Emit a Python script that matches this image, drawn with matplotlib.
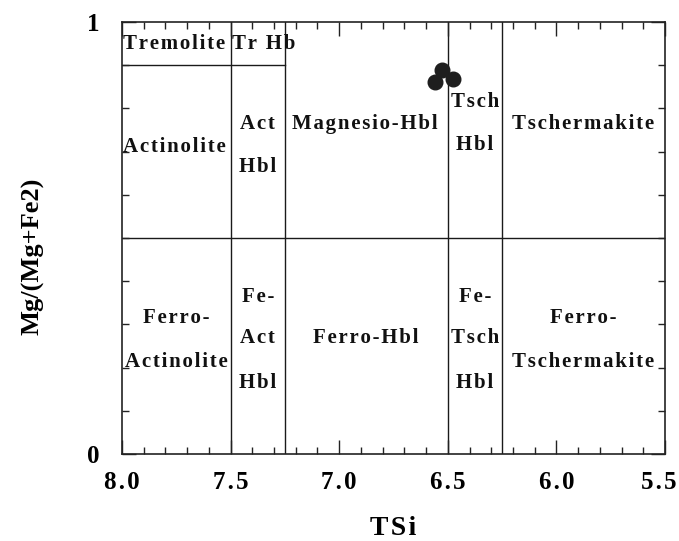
import matplotlib
matplotlib.use("Agg")
import matplotlib.pyplot as plt
import matplotlib.transforms as mtransforms
from matplotlib.ticker import MultipleLocator, FixedLocator

# Data: sample points
tsi = [6.525, 6.559, 6.476]
mg_ratio = [0.889, 0.860, 0.867]

# Field boundaries
vlines_x = [7.5, 7.25, 6.5, 6.25]
hline_full_y = 0.5
hline_part_y = 0.9
hline_part_x = [8.0, 7.25]

# Field labels (text, x, y, ha)
labels = [
    ("Tremolite", 7.995, 0.95, "left"),
    ("Tr Hb", 7.495, 0.95, "left"),
    ("Actinolite", 7.995, 0.71, "left"),
    ("Act", 7.375, 0.764, "center"),
    ("Hbl", 7.375, 0.665, "center"),
    ("Magnesio-Hbl", 6.88, 0.764, "center"),
    ("Tsch", 6.375, 0.815, "center"),
    ("Hbl", 6.375, 0.715, "center"),
    ("Tschermakite", 5.875, 0.764, "center"),
    ("Ferro-", 7.75, 0.315, "center"),
    ("Actinolite", 7.75, 0.213, "center"),
    ("Fe-", 7.375, 0.364, "center"),
    ("Act", 7.375, 0.268, "center"),
    ("Hbl", 7.375, 0.164, "center"),
    ("Ferro-Hbl", 6.88, 0.268, "center"),
    ("Fe-", 6.375, 0.364, "center"),
    ("Tsch", 6.375, 0.268, "center"),
    ("Hbl", 6.375, 0.164, "center"),
    ("Ferro-", 5.875, 0.315, "center"),
    ("Tschermakite", 5.875, 0.213, "center"),
]

x_ticks = [8.0, 7.5, 7.0, 6.5, 6.0, 5.5]
x_ticklabels = ["8.0", "7.5", "7.0", "6.5", "6.0", "5.5"]
y_ticks = [0, 1]
y_ticklabels = ["0", "1"]


def spaced(s):
    return "\u200a".join(s)


plt.rcParams['font.family'] = ['Liberation Serif', 'DejaVu Serif']
plt.rcParams['font.weight'] = 'bold'

fig = plt.figure(figsize=(6.79, 5.41), dpi=100)
ax = fig.add_axes([122/679, 1 - 454/541, (665-122)/679, (454-22)/541])

ax.set_xlim(8.0, 5.5)
ax.set_ylim(0, 1)

lc = "#1a1a1a"
for x in vlines_x:
    ax.plot([x, x], [0, 1], color=lc, lw=1.0, zorder=1)
ax.plot([8.0, 5.5], [hline_full_y, hline_full_y], color=lc, lw=1.0, zorder=1)
ax.plot(hline_part_x, [hline_part_y, hline_part_y], color=lc, lw=1.0, zorder=1)

for txt, x, y, ha in labels:
    ax.text(x, y, spaced(txt), ha=ha, va="center", fontsize=15,
            fontweight="bold", color="#111111")

ax.plot(tsi, mg_ratio, 'o', color="#1e1e1e", markersize=10.5, zorder=3, clip_on=False)

ax.xaxis.set_major_locator(FixedLocator(x_ticks))
ax.set_xticklabels([spaced(t) for t in x_ticklabels], fontsize=18, fontweight="bold")
ax.xaxis.set_minor_locator(MultipleLocator(0.1))
ax.yaxis.set_major_locator(FixedLocator(y_ticks))
ax.set_yticklabels(y_ticklabels, fontsize=18, fontweight="bold")
ax.yaxis.set_minor_locator(MultipleLocator(0.1))

ax.tick_params(which="both", direction="in", top=True, right=True, width=1.0, color="#222222")
ax.tick_params(which="major", length=10)
ax.tick_params(which="minor", length=5)
ax.tick_params(axis="x", which="major", pad=12)
ax.tick_params(axis="y", which="major", pad=16)

# nudge the last x tick label slightly left so it stays inside the figure
last = ax.get_xticklabels()[-1]
last.set_transform(last.get_transform() +
                   mtransforms.ScaledTranslation(-6/100, 0, fig.dpi_scale_trans))

for s in ax.spines.values():
    s.set_linewidth(1.2)
    s.set_color("#222222")

ax.set_xlabel(spaced("TSi"), fontsize=20, fontweight="bold", labelpad=16)
ax.set_ylabel("Mg/(Mg+Fe2)", fontsize=19, fontweight="bold")
ax.yaxis.set_label_coords(-0.142, 0.458)

fig.savefig("out.png", dpi=100)
